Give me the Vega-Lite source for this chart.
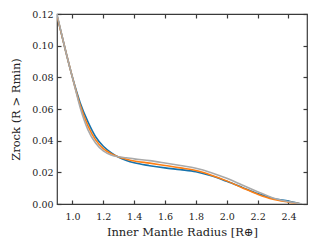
{
  "$schema": "https://vega.github.io/schema/vega-lite/v6.json",
  "width": 250,
  "height": 190,
  "autosize": "none",
  "padding": {"left": 57, "top": 14, "right": 10, "bottom": 47},
  "background": "white",
  "config": {
    "view": {"stroke": "#3a3a3a", "strokeWidth": 1.2},
    "font": "DejaVu Serif",
    "axis": {
      "labelFont": "DejaVu Serif",
      "titleFont": "DejaVu Serif",
      "labelFontSize": 9.5,
      "titleFontSize": 11.5,
      "labelColor": "#222",
      "titleColor": "#222",
      "titleFontWeight": "normal",
      "domain": false,
      "grid": false,
      "tickColor": "#3a3a3a",
      "tickWidth": 1.2,
      "tickSize": -4
    }
  },
  "data": {
    "values": [
      {"x": 0.90, "z": 0.119, "s": "s1"},
      {"x": 0.95, "z": 0.099, "s": "s1"},
      {"x": 1.00, "z": 0.080, "s": "s1"},
      {"x": 1.05, "z": 0.064, "s": "s1"},
      {"x": 1.10, "z": 0.052, "s": "s1"},
      {"x": 1.15, "z": 0.0425, "s": "s1"},
      {"x": 1.20, "z": 0.0365, "s": "s1"},
      {"x": 1.25, "z": 0.0325, "s": "s1"},
      {"x": 1.30, "z": 0.0295, "s": "s1"},
      {"x": 1.35, "z": 0.0275, "s": "s1"},
      {"x": 1.40, "z": 0.026, "s": "s1"},
      {"x": 1.50, "z": 0.0242, "s": "s1"},
      {"x": 1.60, "z": 0.0228, "s": "s1"},
      {"x": 1.70, "z": 0.0217, "s": "s1"},
      {"x": 1.80, "z": 0.0204, "s": "s1"},
      {"x": 1.90, "z": 0.0178, "s": "s1"},
      {"x": 2.00, "z": 0.0143, "s": "s1"},
      {"x": 2.10, "z": 0.0105, "s": "s1"},
      {"x": 2.20, "z": 0.0066, "s": "s1"},
      {"x": 2.30, "z": 0.0035, "s": "s1"},
      {"x": 2.40, "z": 0.0018, "s": "s1"},
      {"x": 2.45, "z": 0.0008, "s": "s1"},
      {"x": 2.48, "z": 0.0, "s": "s1"},
      {"x": 0.90, "z": 0.119, "s": "s2"},
      {"x": 0.95, "z": 0.099, "s": "s2"},
      {"x": 1.00, "z": 0.080, "s": "s2"},
      {"x": 1.05, "z": 0.0625, "s": "s2"},
      {"x": 1.10, "z": 0.0495, "s": "s2"},
      {"x": 1.15, "z": 0.0405, "s": "s2"},
      {"x": 1.20, "z": 0.035, "s": "s2"},
      {"x": 1.25, "z": 0.0318, "s": "s2"},
      {"x": 1.30, "z": 0.0297, "s": "s2"},
      {"x": 1.35, "z": 0.0283, "s": "s2"},
      {"x": 1.40, "z": 0.0272, "s": "s2"},
      {"x": 1.50, "z": 0.0258, "s": "s2"},
      {"x": 1.60, "z": 0.0243, "s": "s2"},
      {"x": 1.70, "z": 0.0228, "s": "s2"},
      {"x": 1.80, "z": 0.0211, "s": "s2"},
      {"x": 1.90, "z": 0.0182, "s": "s2"},
      {"x": 2.00, "z": 0.0146, "s": "s2"},
      {"x": 2.10, "z": 0.0103, "s": "s2"},
      {"x": 2.20, "z": 0.0062, "s": "s2"},
      {"x": 2.30, "z": 0.003, "s": "s2"},
      {"x": 2.40, "z": 0.0012, "s": "s2"},
      {"x": 2.48, "z": 0.0, "s": "s2"},
      {"x": 0.90, "z": 0.120, "s": "s3"},
      {"x": 0.95, "z": 0.099, "s": "s3"},
      {"x": 1.00, "z": 0.080, "s": "s3"},
      {"x": 1.05, "z": 0.061, "s": "s3"},
      {"x": 1.10, "z": 0.047, "s": "s3"},
      {"x": 1.15, "z": 0.0385, "s": "s3"},
      {"x": 1.20, "z": 0.0335, "s": "s3"},
      {"x": 1.25, "z": 0.031, "s": "s3"},
      {"x": 1.30, "z": 0.0298, "s": "s3"},
      {"x": 1.35, "z": 0.0292, "s": "s3"},
      {"x": 1.40, "z": 0.0285, "s": "s3"},
      {"x": 1.50, "z": 0.0274, "s": "s3"},
      {"x": 1.60, "z": 0.0259, "s": "s3"},
      {"x": 1.70, "z": 0.0243, "s": "s3"},
      {"x": 1.80, "z": 0.0226, "s": "s3"},
      {"x": 1.90, "z": 0.0198, "s": "s3"},
      {"x": 2.00, "z": 0.0162, "s": "s3"},
      {"x": 2.10, "z": 0.012, "s": "s3"},
      {"x": 2.20, "z": 0.0078, "s": "s3"},
      {"x": 2.30, "z": 0.0038, "s": "s3"},
      {"x": 2.40, "z": 0.0015, "s": "s3"},
      {"x": 2.49, "z": 0.0, "s": "s3"}
    ]
  },
  "layer": [
    {
      "mark": {"type": "line", "interpolate": "monotone", "clip": true},
      "encoding": {
        "x": {
          "field": "x", "type": "quantitative",
          "scale": {"domain": [0.9, 2.52], "nice": false, "zero": false},
          "axis": {"orient": "bottom", "values": [1.0, 1.2, 1.4, 1.6, 1.8, 2.0, 2.2, 2.4], "format": ".1f", "title": "Inner Mantle Radius [R⊕]", "labelPadding": 11, "titlePadding": 6}
        },
        "y": {
          "field": "z", "type": "quantitative",
          "scale": {"domain": [0, 0.12], "nice": false},
          "axis": {"orient": "left", "values": [0, 0.02, 0.04, 0.06, 0.08, 0.1, 0.12], "format": ".2f", "title": "Zrock (R > Rmin)", "labelPadding": 8, "titlePadding": 10}
        },
        "color": {
          "field": "s", "type": "nominal", "legend": null,
          "scale": {"domain": ["s1", "s2", "s3"], "range": ["#1672ac", "#ff7f12", "#a9a9a9"]}
        },
        "strokeWidth": {
          "field": "s", "type": "nominal", "legend": null,
          "scale": {"domain": ["s1", "s2", "s3"], "range": [1.6, 1.6, 2]}
        }
      }
    },
    {
      "mark": {"type": "line", "opacity": 0},
      "encoding": {
        "x": {
          "field": "x", "type": "quantitative",
          "scale": {"domain": [0.9, 2.52], "nice": false, "zero": false},
          "axis": {"orient": "top", "values": [1.0, 1.2, 1.4, 1.6, 1.8, 2.0, 2.2, 2.4], "labels": false, "title": null}
        },
        "y": {
          "field": "z", "type": "quantitative",
          "scale": {"domain": [0, 0.12], "nice": false},
          "axis": {"orient": "right", "values": [0, 0.02, 0.04, 0.06, 0.08, 0.1, 0.12], "labels": false, "title": null}
        },
        "detail": {"field": "s", "type": "nominal"}
      }
    }
  ],
  "resolve": {"axis": {"x": "independent", "y": "independent"}}
}
